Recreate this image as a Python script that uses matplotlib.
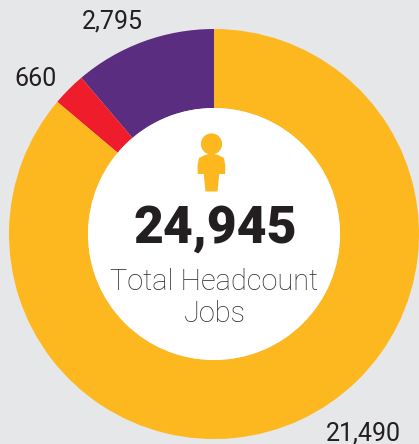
import matplotlib
matplotlib.use("Agg")
import matplotlib.pyplot as plt
from matplotlib.patches import Circle, PathPatch
from matplotlib.path import Path

values = [2795, 660, 21490]
colors = ["#5a2d81", "#ef1c2c", "#fdb71f"]
labels = ["2,795", "660", "21,490"]
total_text = "24,945"
caption = "Total Headcount\nJobs"

W, H = 419, 444
BG = "#e6e7e8"
INK = "#231f20"
GOLD = "#fdb71f"

fig = plt.figure(figsize=(W / 100, H / 100), dpi=100, facecolor=BG)
ax = fig.add_axes([0, 0, 1, 1])
ax.set_xlim(0, W)
ax.set_ylim(H, 0)
ax.axis("off")


def py(y):
    # pie needs an upward y, so it gets its own axes below
    return H - y


pie_ax = fig.add_axes([0, 0, 1, 1], zorder=0)
ax.set_zorder(1)
ax.patch.set_alpha(0)

pie_ax.pie(values, colors=colors, startangle=90, counterclock=True,
           center=(214, py(234)), radius=205, frame=True,
           wedgeprops=dict(width=205 - 126, linewidth=0))
pie_ax.set_xlim(0, W)
pie_ax.set_ylim(0, H)
pie_ax.set_aspect("auto")
pie_ax.axis("off")

ax.add_patch(Circle((214, 234), 126, fc="white", ec="none"))

# person icon
ax.add_patch(Circle((211.5, 144), 10.6, fc=GOLD, ec="none"))
body = [(197.6, 172), (197.6, 165), (199, 158), (205, 155), (211.5, 153.5),
        (218, 155), (224, 158), (225.2, 165), (225.2, 172), (225.2, 174),
        (219.2, 174), (217.5, 191.5), (205.5, 191.5), (203.7, 174), (197.6, 174), (197.6, 172)]
codes = [Path.MOVETO] + [Path.LINETO] * (len(body) - 1)
ax.add_patch(PathPatch(Path(body, codes), fc=GOLD, ec="none"))

ax.text(215, 243, total_text, ha="center", va="baseline", fontsize=37.3,
        fontfamily="Roboto", fontweight="black", color=INK)
cap_lines = caption.split("\n")
light = dict(ha="center", va="baseline", fontfamily="Roboto", fontweight="light", color="#2e2b2c")
ax.text(214, 290, cap_lines[0], fontsize=20.9, **light)
ax.text(214.5, 322, cap_lines[1], fontsize=20.9, **light)

label_style = dict(ha="center", va="baseline", fontfamily="Roboto", fontweight="normal", color=INK, fontsize=18)
ax.text(112, 29, labels[0], **label_style)
ax.text(35.5, 86, labels[1], **label_style)
ax.text(363.5, 440, labels[2], **label_style)

fig.savefig("out.png", dpi=100, facecolor=BG)
